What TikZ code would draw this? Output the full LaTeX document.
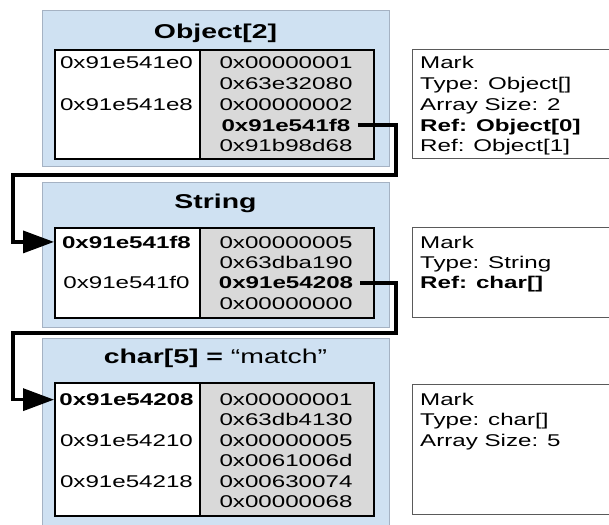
\documentclass[tikz,border=0pt]{standalone}
\usepackage{fontspec}
\setmainfont{Liberation Sans}[FakeStretch=1.42]
\usepackage{tikz}
\usetikzlibrary{arrows.meta}
\definecolor{hpblue}{RGB}{207,225,242}
\definecolor{hpborder}{RGB}{165,178,195}
\definecolor{hpgray}{RGB}{217,217,217}
\definecolor{hpmark}{RGB}{90,90,90}
\tikzstyle{heapobj} = [rectangle, anchor=north west, draw=hpborder, fill=hpblue, line width=1pt, inner sep=0pt]
\tikzstyle{addrcell} = [rectangle, anchor=north west, draw=black, fill=white, line width=2pt, inner sep=0pt]
\tikzstyle{datacell} = [addrcell, fill=hpgray]
\tikzstyle{markbox} = [rectangle, anchor=north west, draw=hpmark, fill=white, line width=1.3pt, inner sep=0pt]
\tikzstyle{objtitle} = [anchor=base, inner sep=0pt, font=\fontsize{20}{24}\selectfont\bfseries]
\tikzstyle{word} = [anchor=base, inner sep=0pt, font=\fontsize{17}{20.6}\selectfont]
\tikzstyle{markline} = [word, anchor=base west]
\tikzstyle{ref} = [line width=3.5pt, -{Triangle[length=31pt,width=22pt]}]
\begin{document}
\begin{tikzpicture}[x=1pt, y=-1pt]
\useasboundingbox (0,0) rectangle (609,524);

% Object[2]
\node[heapobj, minimum width=347pt, minimum height=156pt] (objarr) at (42,10) {};
\node[objtitle] (objname) at (215.5,38.9) {Object[2]};
\node[addrcell, minimum width=145pt, minimum height=109pt] (addr1) at (54,49) {};
\node[datacell, minimum width=174pt, minimum height=109pt] (data1) at (199,49) {};
\node[word] (oa1) at (126.5,69) {0x91e541e0};
\node[word] (oa2) at (126.5,110.4) {0x91e541e8};
\node[word] (ov1) at (286,69) {0x00000001};
\node[word] (ov2) at (286,89.7) {0x63e32080};
\node[word] (ov3) at (286,110.4) {0x00000002};
\node[word] (ov4) at (286,131.1) {\textbf{0x91e541f8}};
\node[word] (ov5) at (286,151.8) {0x91b98d68};

\node[markbox, minimum width=203pt, minimum height=109pt] (mark1) at (412,49) {};
\node[markline] (om1) at (420,69) {Mark};
\node[markline] (om2) at (420,89.7) {Type: Object[]};
\node[markline] (om3) at (420,110.4) {Array Size: 2};
\node[markline] (om4) at (420,131.1) {\textbf{Ref: Object[0]}};
\node[markline] (om5) at (420,151.8) {Ref: Object[1]};

% String
\node[heapobj, minimum width=347pt, minimum height=145pt] (strobj) at (42,182) {};
\node[objtitle] (strname) at (215.5,208.9) {String};
\node[addrcell, minimum width=145pt, minimum height=90pt] (addr2) at (54,227) {};
\node[datacell, minimum width=174pt, minimum height=90pt] (data2) at (199,227) {};
\node[word] (sa1) at (126.5,248) {\textbf{0x91e541f8}};
\node[word] (sa2) at (126.5,288.8) {0x91e541f0};
\node[word] (sv1) at (286,248) {0x00000005};
\node[word] (sv2) at (286,268.4) {0x63dba190};
\node[word] (sv3) at (286,288.8) {\textbf{0x91e54208}};
\node[word] (sv4) at (286,309.2) {0x00000000};

\node[markbox, minimum width=203pt, minimum height=90pt] (mark2) at (412,227) {};
\node[markline] (sm1) at (420,248) {Mark};
\node[markline] (sm2) at (420,268.4) {Type: String};
\node[markline] (sm3) at (420,288.8) {\textbf{Ref: char[]}};

% char[5]
\node[heapobj, minimum width=347pt, minimum height=192pt] (charobj) at (42,338) {};
\node[objtitle] (charname) at (215.5,363.8) {char[5] = \mdseries “match”};
\node[addrcell, minimum width=145pt, minimum height=133pt] (addr3) at (54,382) {};
\node[datacell, minimum width=174pt, minimum height=133pt] (data3) at (199,382) {};
\node[word] (ca1) at (126.5,405.5) {\textbf{0x91e54208}};
\node[word] (ca2) at (126.5,446.3) {0x91e54210};
\node[word] (ca3) at (126.5,487.1) {0x91e54218};
\node[word] (cv1) at (286,405.5) {0x00000001};
\node[word] (cv2) at (286,425.9) {0x63db4130};
\node[word] (cv3) at (286,446.3) {0x00000005};
\node[word] (cv4) at (286,466.7) {0x0061006d};
\node[word] (cv5) at (286,487.1) {0x00630074};
\node[word] (cv6) at (286,507.5) {0x00000068};

\node[markbox, minimum width=203pt, minimum height=130pt] (mark3) at (412,384) {};
\node[markline] (cm1) at (420,405.5) {Mark};
\node[markline] (cm2) at (420,425.9) {Type: char[]};
\node[markline] (cm3) at (420,446.3) {Array Size: 5};

% references
\coordinate (bend1) at (396,175);
\coordinate (back1) at (13,175);
\coordinate (bend2) at (396,333);
\coordinate (back2) at (13,333);
\draw[ref] ([xshift=7pt]ov4.east) -| (bend1) -| (back1 |- sa1.east) -- (addr2.west |- sa1.east);
\draw[ref] ([xshift=7pt]sv3.east) -| (bend2) -| (back2 |- ca1.east) -- (addr3.west |- ca1.east);
\end{tikzpicture}
\end{document}
